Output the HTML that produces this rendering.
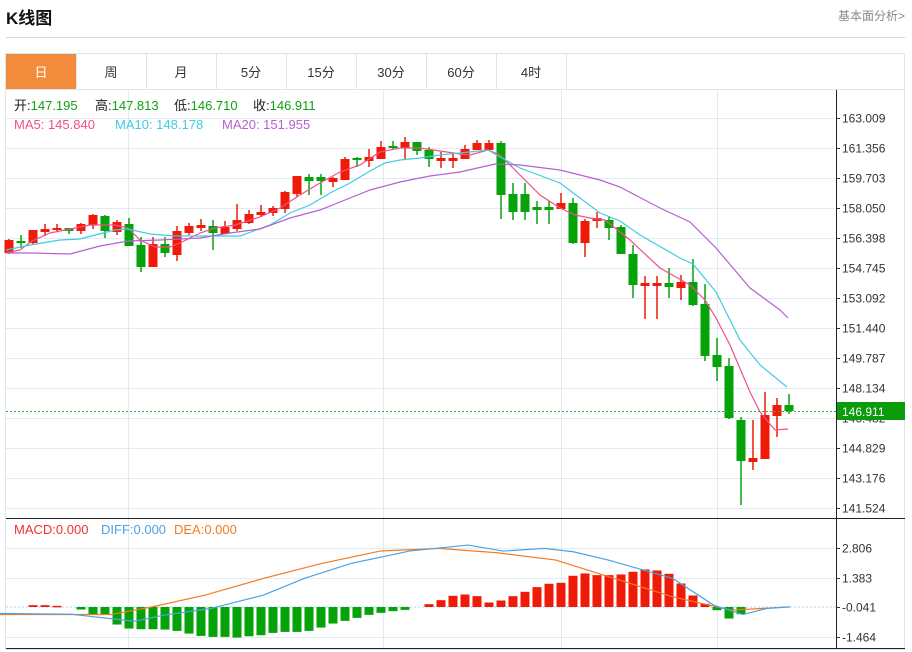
<!DOCTYPE html>
<html><head><meta charset="utf-8"><style>
body{margin:0;background:#fff;width:912px;height:652px;overflow:hidden;font-family:"Liberation Sans","Noto Sans CJK SC",sans-serif}
</style></head><body>
<svg id="s" width="912" height="652" xmlns="http://www.w3.org/2000/svg" style="position:absolute;left:0;top:0;font-family:'Liberation Sans','Noto Sans CJK SC',sans-serif">
<text x="6" y="24" font-size="17" font-weight="bold" fill="#111">K线图</text>
<text x="905" y="20" font-size="12" fill="#888" text-anchor="end">基本面分析&gt;</text>
<line x1="6" y1="37.5" x2="905" y2="37.5" stroke="#d5d5d5"/>
<rect x="5.5" y="53.5" width="899" height="596" fill="none" stroke="#dfe5ec"/>
<line x1="6" y1="89.5" x2="905" y2="89.5" stroke="#dfe5ec"/>
<rect x="6" y="54" width="70" height="35" fill="#f38b3c"/>
<g id="tabs" font-size="13" fill="#333" text-anchor="middle"></g>
<g id="g"></g>
</svg>
<script>
var S='';
function L(x1,y1,x2,y2,c,w,d){S+='<line x1="'+x1+'" y1="'+y1+'" x2="'+x2+'" y2="'+y2+'" stroke="'+c+'" stroke-width="'+(w||1)+'"'+(d?' stroke-dasharray="'+d+'"':'')+'/>';}
function R(x,y,w,h,c){S+='<rect x="'+x+'" y="'+y+'" width="'+w+'" height="'+Math.max(h,1.5)+'" fill="'+c+'"/>';}
function T(x,y,t,c,s,a){S+='<text x="'+x+'" y="'+y+'" fill="'+c+'" font-size="'+(s||12)+'"'+(a?' text-anchor="'+a+'"':'')+'>'+t+'</text>';}
function P(pts,c){S+='<polyline fill="none" stroke="'+c+'" stroke-width="1.2" points="'+pts.map(p=>p.join(',')).join(' ')+'"/>';}
var tabs=['日','周','月','5分','15分','30分','60分','4时'],tb='';
tabs.forEach((t,i)=>{tb+='<text x="'+(41+70*i)+'" y="77" '+(i==0?'fill="#fff"':'')+'>'+t+'</text>';if(i>0)tb+='<line x1="'+(6+70*i+.5)+'" y1="54" x2="'+(6+70*i+.5)+'" y2="89" stroke="#dfe5ec"/>';});
tb+='<line x1="566.5" y1="54" x2="566.5" y2="89" stroke="#dfe5ec"/>';
document.getElementById('tabs').innerHTML=tb;
var labs=['163.009','161.356','159.703','158.050','156.398','154.745','153.092','151.440','149.787','148.134','146.482','144.829','143.176','141.524'];
labs.forEach((l,i)=>{var y=118.5+30*i;L(6,y,836,y,'#e3ebf2');L(836,y,840,y,'#333');T(842,y+4,l,'#333',12);});
[128.5,383.5,561.5,717.5].forEach(x=>{L(x,90,x,518,'#e3ebf2');L(x,518,x,648,'#e3ebf2');});
[548.5,578.5,637.5].forEach((y,i)=>L(6,y,836,y,'#e3ebf2'));
var C=[[240,253,239,254,'r'],[241,243,235,248,'g'],[230,243,230,244,'r'],[229,232,224,236,'r'],[228,230,224,232,'r'],[228,231,228,234,'g'],[224,231,223,234,'r'],[215,225,214,229,'r'],[216,231,215,238,'g'],[222,232,220,235,'r'],[224,246,218,246,'g'],[245,267,237,272,'g'],[244,267,237,267,'r'],[244,253,237,257,'g'],[231,255,226,261,'r'],[226,233,223,235,'r'],[225,228,219,231,'r'],[226,233,220,250,'g'],[227,234,221,234,'r'],[220,229,204,231,'r'],[214,223,210,224,'r'],[212,215,205,217,'r'],[208,213,206,216,'r'],[192,209,191,213,'r'],[176,194,176,197,'r'],[177,181,174,195,'g'],[177,181,174,195,'g'],[178,182,177,187,'r'],[159,180,157,180,'r'],[158,160,157,167,'g'],[157,161,149,167,'r'],[147,159,141,159,'r'],[146,148,141,149,'g'],[142,148,137,159,'r'],[142,151,142,155,'g'],[150,159,147,167,'g'],[158,161,152,168,'r'],[158,161,153,168,'r'],[149,159,145,159,'r'],[143,150,140,150,'r'],[143,150,140,150,'r'],[143,195,141,219,'g'],[194,212,183,220,'g'],[194,212,183,220,'g'],[207,210,201,224,'g'],[207,210,201,224,'g'],[203,209,193,209,'r'],[203,243,198,244,'g'],[221,243,219,257,'r'],[218,221,212,228,'r'],[220,228,216,240,'g'],[227,254,225,254,'g'],[254,285,245,298,'g'],[283,286,276,319,'r'],[283,286,276,319,'r'],[283,287,268,298,'g'],[282,288,275,300,'r'],[282,305,259,306,'g'],[304,356,284,361,'g'],[355,367,338,381,'g'],[366,418,358,419,'g'],[420,461,417,505,'g'],[458,462,420,470,'r'],[415,459,392,459,'r'],[405,416,398,437,'r'],[405,411,394,414,'g']];
C.forEach((c,i)=>{var x=9+12*i,col=c[4]=='r'?'#f01a08':'#05a20a';L(x,c[2],x,c[3],col,1.5);R(x-4.5,c[0],9,c[1]-c[0],col);});
P([[6,253],[20,250],[32,241],[50,233],[70,229],[90,225],[115,225],[128,228],[140,240],[155,247],[170,247],[182,242],[200,233],[215,228],[235,225],[260,217],[280,208],[300,195],[320,183],[340,172],[360,165],[380,152],[400,148],[420,148],[440,151],[460,154],[470,155],[488,150],[500,155],[520,175],[540,195],[560,208],[575,215],[590,218],[605,220],[630,240],[660,268],[690,285],[705,300],[716,318],[730,345],[750,392],[760,412],[775,430],[788,429]],'#f0508a');
P([[6,250],[30,245],[60,240],[80,239],[95,235],[115,230],[128,229],[150,234],[175,236],[200,236],[240,236],[270,225],[290,213],[310,205],[330,193],[350,183],[370,171],[385,163],[400,160],[420,158],[440,155],[460,153],[488,150],[500,157],[520,168],[560,183],[600,213],[620,221],[640,235],[680,258],[693,264],[716,292],[740,340],[760,365],[787,387]],'#3fcde0');
P([[6,253],[30,253],[70,254],[100,246],[128,241],[160,240],[200,238],[230,233],[260,229],[290,218],[320,210],[345,200],[370,190],[400,182],[430,176],[460,172],[495,164],[520,165],[560,170],[600,180],[620,187],[660,208],[690,222],[716,248],[750,288],[780,310],[788,318]],'#b860d0');
L(6,411.5,836,411.5,'#35a835',1,'2,2');
R(836,402,69,18,'#0a9c0a');T(842,416,'146.911','#fff',12);
[['开',14,'147.195'],['高',95,'147.813'],['低',174,'146.710'],['收',253,'146.911']].forEach(a=>{S+='<text x="'+a[1]+'" y="110" font-size="13"><tspan fill="#222">'+a[0]+':</tspan><tspan fill="#11a011">'+a[2]+'</tspan></text>';});
T(14,129,'MA5: 145.840','#f0508a',13);T(115,129,'MA10: 148.178','#3fcde0',13);T(222,129,'MA20: 151.955','#b860d0',13);
L(836.5,90,836.5,648,'#222');L(6,518.5,905,518.5,'#222');L(6,648.5,905,648.5,'#222');
[['2.806',548.5],['1.383',578.5],['-0.041',607.5],['-1.464',637.5]].forEach(a=>{L(836,a[1],840,a[1],'#333');T(842,a[1]+4,a[0],'#333',12);});
L(6,607,836,607,'#a8d4f0',1,'2,2');
var H=[270,270,272,275,283,298,298,328,340,342,342,343,347,355,362,365,365,367,363,360,353,350,350,347,337,325,317,308,299,293,288,284,276,267,255,242,238,243,262,256,243,230,216,206,203,182,175,180,180,178,170,163,166,176,205,241,266,285,310,297,276];
H.forEach((h,k)=>{var x=33+12*k,y=515+h*0.334,z=607;if(Math.abs(y-z)<0.8)return;var col=y<z?'#f01a08':'#05a20a';R(x-4.5,Math.min(y,z),9,Math.abs(y-z),col);});
function M(a){return a.map(p=>[p[0]*0.585,515+p[1]*0.334]);}
P(M([[0,298],[190,298],[260,275],[350,240],[450,190],[550,145],[650,108],[750,100],[850,113],[950,135],[1050,190],[1150,245],[1250,285],[1300,280],[1350,275]]),'#f47a20');
P(M([[0,295],[120,297],[230,318],[280,300],[360,280],[450,240],[520,190],[600,145],[700,108],[800,90],[860,108],[930,100],[980,110],[1040,135],[1100,165],[1150,190],[1220,270],[1270,298],[1310,280],[1350,275]]),'#4aa3e8');
T(14,534,'MACD:0.000','#f03030',13);T(101,534,'DIFF:0.000','#4aa3e8',13);T(174,534,'DEA:0.000','#f47a20',13);
document.getElementById('g').innerHTML=S;
</script>
</body></html>
